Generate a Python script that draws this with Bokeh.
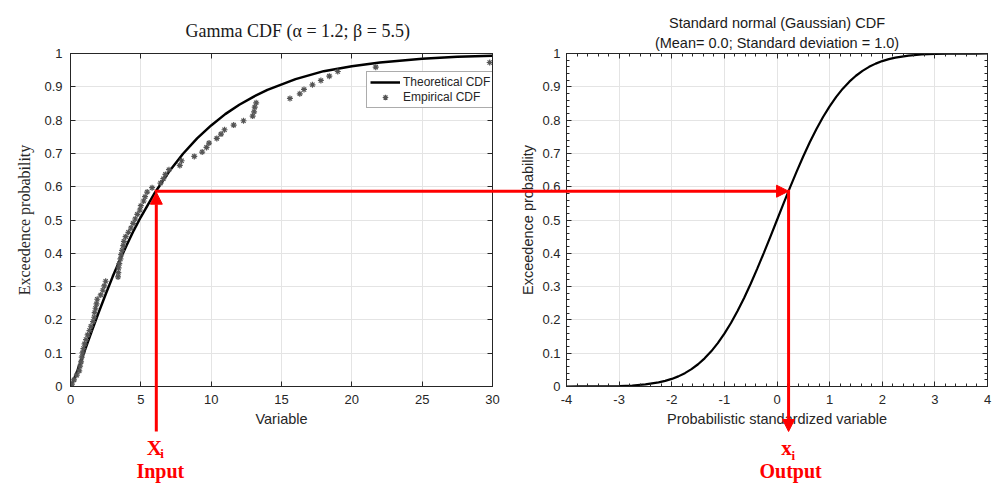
from bokeh.plotting import figure
from bokeh.layouts import row
from bokeh.models import (Arrow, NormalHead, Label, Title, LinearAxis, FixedTicker,
                          NumeralTickFormatter, CustomJSTickFormatter, Range1d, GridBox)
from bokeh.embed import file_html
from bokeh.resources import INLINE

# ---------------- data ----------------
gamma_x = [0, 0.25, 0.5, 1, 1.5, 2, 2.5, 3, 3.5, 4, 4.5, 5, 6, 7, 8, 9, 10, 11, 12, 13,
           14, 16, 18, 20, 22, 25, 27.5, 30]
gamma_cdf = [0, 0.022, 0.049, 0.106, 0.165, 0.222, 0.277, 0.330, 0.379, 0.425, 0.469,
             0.509, 0.582, 0.645, 0.699, 0.745, 0.784, 0.818, 0.846, 0.870,
             0.891, 0.923, 0.947, 0.962, 0.973, 0.984, 0.990, 0.993]

emp_p = [0.007, 0.020, 0.034, 0.047, 0.061, 0.074, 0.088, 0.101, 0.114, 0.128,
         0.141, 0.155, 0.168, 0.181, 0.195, 0.208, 0.222, 0.235, 0.248, 0.262,
         0.275, 0.289, 0.302, 0.316, 0.329, 0.342, 0.356, 0.369, 0.383, 0.396,
         0.409, 0.423, 0.436, 0.450, 0.463, 0.476, 0.490, 0.503, 0.517, 0.530,
         0.543, 0.557, 0.570, 0.584, 0.597, 0.611, 0.624, 0.637, 0.651, 0.664,
         0.678, 0.691, 0.704, 0.718, 0.731, 0.745, 0.758, 0.771, 0.785, 0.798,
         0.812, 0.825, 0.839, 0.852, 0.865, 0.879, 0.892, 0.906, 0.919, 0.932,
         0.946, 0.959, 0.973]
emp_x = [0.10, 0.25, 0.45, 0.62, 0.68, 0.75, 0.80, 0.85, 0.92, 1.00,
         1.10, 1.22, 1.35, 1.45, 1.60, 1.68, 1.72, 1.78, 1.85, 1.90,
         2.15, 2.30, 2.40, 2.50, 3.38, 3.40, 3.42, 3.47, 3.55, 3.60,
         3.67, 3.75, 3.80, 3.92, 4.12, 4.30, 4.45, 4.60, 4.75, 4.93,
         5.00, 5.20, 5.30, 5.45, 5.80, 6.40, 6.60, 6.75, 7.00, 7.77,
         7.90, 8.80, 9.36, 9.67, 9.85, 10.40, 10.70, 10.95, 11.60, 12.30,
         12.95, 13.05, 13.10, 13.20, 15.60, 16.30, 16.60, 17.20, 17.80, 18.40,
         19.00, 21.70, 29.80]

norm_z = [-4, -3.75, -3.5, -3.25, -3, -2.75, -2.5, -2.25, -2.125, -2, -1.875, -1.75,
          -1.625, -1.5, -1.375, -1.25, -1.125, -1, -0.875, -0.75, -0.625, -0.5,
          -0.375, -0.25, -0.125, 0, 0.125, 0.25, 0.375, 0.5, 0.625, 0.75, 0.875, 1,
          1.125, 1.25, 1.375, 1.5, 1.625, 1.75, 1.875, 2, 2.125, 2.25, 2.5, 2.75, 3,
          3.25, 3.5, 3.75, 4]
norm_cdf = [0.00003, 0.00009, 0.00023, 0.00058, 0.00135, 0.00298, 0.00621, 0.01222,
            0.01679, 0.02275, 0.03040, 0.04006, 0.05208, 0.06681, 0.08457, 0.10565,
            0.13029, 0.15866, 0.19079, 0.22663, 0.26599, 0.30854, 0.35383, 0.40129,
            0.45026, 0.5, 0.54974, 0.59871, 0.64617, 0.69146, 0.73401, 0.77337,
            0.80921, 0.84134, 0.86971, 0.89435, 0.91543, 0.93319, 0.94792, 0.95994,
            0.96960, 0.97725, 0.98321, 0.98778, 0.99379, 0.99702, 0.99865, 0.99942,
            0.99977, 0.99991, 0.99997]

gamma_ticks = [0, 5, 10, 15, 20, 25, 30]
norm_ticks = [-4, -3, -2, -1, 0, 1, 2, 3, 4]
prob_ticks = [0, 0.1, 0.2, 0.3, 0.4, 0.5, 0.6, 0.7, 0.8, 0.9, 1]

x_input = 6.1      # Xi (input)
p_input = 0.5865   # common probability
z_output = 0.22    # xi (output)

# ---------------- geometry / style ----------------
H = 484
W1, W2 = 515, 477
MB_TOP, MB_BOTTOM = 53, 98
L_MB_LEFT, L_MB_RIGHT = 70, 23
R_MB_LEFT, R_MB_RIGHT = 51, 5

SANS = "Liberation Sans"
SERIF = "Liberation Serif"
INK = "#262626"
RED = "#ff0000"
GRID = "#e4e4e4"

hide_fmt = CustomJSTickFormatter(code="return ''")


def style_axis(ax, show_labels=True, minor=False):
    ax.axis_line_color = INK
    ax.axis_line_width = 1
    ax.major_tick_line_color = INK
    ax.major_tick_in = 5
    ax.major_tick_out = 0
    if minor:
        ax.minor_tick_line_color = INK
        ax.minor_tick_in = 3
        ax.minor_tick_out = 0
    else:
        ax.minor_tick_line_color = None
    ax.major_label_text_font = SANS
    ax.major_label_text_font_size = "13px"
    ax.major_label_text_color = INK
    ax.axis_label_text_font_style = "normal"
    ax.axis_label_text_color = INK
    if not show_labels:
        ax.formatter = hide_fmt
        ax.major_label_text_color = None
        ax.major_label_standoff = 0


def base_fig(width, x_range, mb_left, mb_right, title):
    p = figure(width=width, height=H, x_range=x_range, y_range=Range1d(0, 1),
               output_backend="svg", toolbar_location=None,
               min_border_left=mb_left, min_border_right=mb_right,
               min_border_top=MB_TOP, min_border_bottom=MB_BOTTOM, title=title)
    p.background_fill_color = "white"
    p.border_fill_color = "white"
    p.outline_line_color = INK
    return p


# ---------------- left: gamma ----------------
xt1 = FixedTicker(ticks=gamma_ticks)
yt1 = FixedTicker(ticks=prob_ticks)
p1 = base_fig(W1, Range1d(0, 30), L_MB_LEFT, L_MB_RIGHT, "Gamma CDF (α = 1.2; β = 5.5)")
p1.add_layout(LinearAxis(), "right")
p1.add_layout(LinearAxis(), "above")
for ax in p1.xaxis:
    ax.ticker = xt1
for ax in p1.yaxis:
    ax.ticker = yt1
p1.left[0].formatter = NumeralTickFormatter(format="0.[0]")
p1.xgrid.ticker = xt1
p1.ygrid.ticker = yt1
for g in (p1.xgrid[0], p1.ygrid[0]):
    g.grid_line_color = GRID
    g.grid_line_width = 1

style_axis(p1.below[0])
style_axis(p1.left[0])
style_axis(p1.right[0], show_labels=False)
style_axis(p1.above[0], show_labels=False)
p1.below[0].axis_label = "Variable"
p1.below[0].axis_label_text_font = SANS
p1.below[0].axis_label_text_font_size = "14.5px"
p1.below[0].major_label_standoff = 8
p1.below[0].axis_label_standoff = 4
p1.left[0].axis_label = "Exceedence probability"
p1.left[0].axis_label_text_font = SERIF
p1.left[0].axis_label_text_font_size = "16px"
p1.left[0].major_label_standoff = 8
p1.left[0].axis_label_standoff = 8

p1.title.text_font = SERIF
p1.title.text_font_size = "18px"
p1.title.text_font_style = "normal"
p1.title.text_color = "#1a1a1a"
p1.title.align = "left"
p1.title.offset = 115
p1.title.standoff = 26

p1.line(gamma_x, gamma_cdf, line_color="black", line_width=2.5,
        legend_label="Theoretical CDF")
p1.scatter(emp_x, emp_p, marker="asterisk", size=6, line_color="#555555",
           line_width=1.2, legend_label="Empirical CDF")

lg = p1.legend[0]
lg.location = (296, 278)
lg.label_text_font = SANS
lg.label_text_font_size = "12px"
lg.label_text_color = INK
lg.glyph_width = 30
lg.glyph_height = 14
lg.label_height = 14
lg.label_standoff = 3
lg.spacing = 1
lg.padding = 3
lg.margin = 0
lg.border_line_color = "#5a5a5a"
lg.border_line_width = 1
lg.background_fill_color = "white"
lg.background_fill_alpha = 1

# ---------------- right: standard normal ----------------
xt2 = FixedTicker(ticks=norm_ticks,
                  minor_ticks=[-4 + 0.2 * k for k in range(41)])
yt2 = FixedTicker(ticks=prob_ticks,
                  minor_ticks=[0.02 * k for k in range(51)])
p2 = base_fig(W2, Range1d(-4, 4), R_MB_LEFT, R_MB_RIGHT, "Standard normal (Gaussian) CDF")
p2.add_layout(LinearAxis(), "right")
p2.add_layout(LinearAxis(), "above")
p2.add_layout(Title(text="(Mean= 0.0; Standard deviation = 1.0)", align="center",
                    text_font=SANS, text_font_size="14.5px", text_font_style="normal",
                    text_color="#1a1a1a", standoff=5), "above")
for ax in p2.xaxis:
    ax.ticker = xt2
for ax in p2.yaxis:
    ax.ticker = yt2
p2.below[0].formatter = NumeralTickFormatter(format="0")
p2.left[0].formatter = NumeralTickFormatter(format="0.[0]")
p2.xgrid.ticker = xt2
p2.ygrid.ticker = yt2
for g in (p2.xgrid[0], p2.ygrid[0]):
    g.grid_line_color = GRID
    g.grid_line_width = 1

style_axis(p2.below[0], minor=True)
style_axis(p2.left[0], minor=True)
style_axis(p2.right[0], show_labels=False, minor=True)
style_axis(p2.above[0], show_labels=False, minor=True)
p2.below[0].axis_label = "Probabilistic standardized variable"
p2.below[0].axis_label_text_font = SANS
p2.below[0].axis_label_text_font_size = "14.5px"
p2.below[0].major_label_standoff = 8
p2.below[0].axis_label_standoff = 4
p2.left[0].axis_label = "Exceedence probability"
p2.left[0].axis_label_text_font = SANS
p2.left[0].axis_label_text_font_size = "14.5px"
p2.left[0].major_label_standoff = 6
p2.left[0].axis_label_standoff = 3

p2.title.text_font = SANS
p2.title.text_font_size = "14.5px"
p2.title.text_font_style = "normal"
p2.title.text_color = "#1a1a1a"
p2.title.align = "center"
p2.title.standoff = 0

p2.line(norm_z, norm_cdf, line_color="black", line_width=2.2)

# ---------------- overlay: the red transfer arrows (spanning both panels) ----------------
FR_TOP = MB_TOP
FR_BOTTOM = H - MB_BOTTOM
L_LEFT, L_RIGHT = L_MB_LEFT, W1 - L_MB_RIGHT
R_LEFT, R_RIGHT = W1 + R_MB_LEFT, W1 + W2 - R_MB_RIGHT


def px_left(x):
    r = p1.x_range
    return L_LEFT + (x - r.start) / (r.end - r.start) * (L_RIGHT - L_LEFT)


def px_right(z):
    r = p2.x_range
    return R_LEFT + (z - r.start) / (r.end - r.start) * (R_RIGHT - R_LEFT)


def py(p):
    return FR_BOTTOM - p * (FR_BOTTOM - FR_TOP)


ov = figure(width=W1 + W2, height=H, x_range=Range1d(0, W1 + W2), y_range=Range1d(H, 0),
            output_backend="svg", toolbar_location=None, x_axis_type=None,
            y_axis_type=None, min_border=0, min_border_left=0, min_border_right=0,
            min_border_top=0, min_border_bottom=0, title=None)
ov.grid.visible = False
ov.outline_line_color = None
ov.background_fill_color = None
ov.border_fill_color = None

xin = px_left(x_input)
zout = px_right(z_output)
yp = py(p_input)
ARROW_FOOT = 431

ov.add_layout(Arrow(end=NormalHead(size=12, fill_color=RED, line_color=RED, line_width=1),
                    x_start=xin, y_start=ARROW_FOOT, x_end=xin, y_end=yp + 1,
                    line_color=RED, line_width=3))
ov.add_layout(Arrow(end=NormalHead(size=12, fill_color=RED, line_color=RED, line_width=1),
                    x_start=xin - 1.5, y_start=yp, x_end=zout, y_end=yp,
                    line_color=RED, line_width=3))
ov.add_layout(Arrow(end=NormalHead(size=12, fill_color=RED, line_color=RED, line_width=1),
                    x_start=zout, y_start=yp - 1.5, x_end=zout, y_end=ARROW_FOOT,
                    line_color=RED, line_width=3))


def red_text(x, y, text, size, align="center"):
    ov.add_layout(Label(x=x, y=y, text=text, text_font=SERIF, text_font_size=size,
                        text_font_style="bold", text_color=RED, text_align=align,
                        text_baseline="middle"))


red_text(xin - 2, 447, "X", "21px")
red_text(xin + 4, 453, "i", "13px", align="left")
red_text(xin + 4, 470, "Input", "20px")
red_text(zout - 2, 447, "x", "21px")
red_text(zout + 3, 455, "i", "13px", align="left")
red_text(zout + 2, 470, "Output", "20px")

panels = row(p1, p2, spacing=0)
layout = GridBox(children=[(panels, 0, 0), (ov, 0, 0)], spacing=0)
open("out.html", "w").write(file_html(layout, INLINE))
